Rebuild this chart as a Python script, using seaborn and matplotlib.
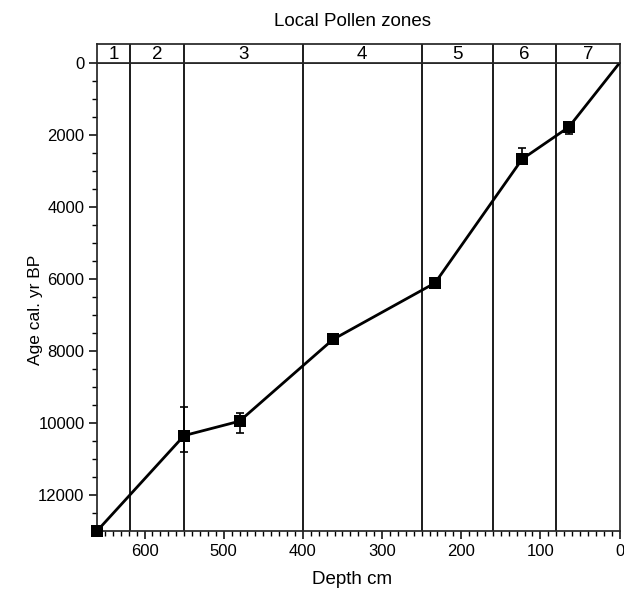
import numpy as np
import pandas as pd
import matplotlib
matplotlib.use("Agg")
import matplotlib.pyplot as plt
import seaborn as sns
from matplotlib.ticker import MultipleLocator

# ---- data ----
sample_depth = [660, 550, 480, 362, 233, 123, 64]          # cm
sample_age = [13000, 10350, 9950, 7680, 6110, 2670, 1780]  # cal. yr BP
age_young = [13000, 9560, 9720, 7680, 6110, 2370, 1650]    # error bar top
age_old = [13000, 10800, 10280, 7680, 6110, 2800, 1960]    # error bar bottom
surface_depth = [0]
surface_age = [0]

zone_bounds = [660, 618, 550, 400, 250, 160, 80, 0]
zone_labels = ["1", "2", "3", "4", "5", "6", "7"]

x_ticks = [600, 500, 400, 300, 200, 100, 0]
y_ticks = [0, 2000, 4000, 6000, 8000, 10000, 12000]

# ---- style ----
sns.set_style("ticks")
plt.rcParams["font.family"] = ["Liberation Sans", "DejaVu Sans"]
plt.rcParams["text.color"] = "black"
plt.rcParams["axes.labelcolor"] = "black"
plt.rcParams["xtick.color"] = "black"
plt.rcParams["ytick.color"] = "black"

W, H = 624, 598
fig = plt.figure(figsize=(W / 100, H / 100), dpi=100)

ax_l, ax_r, ax_t, ax_b = 97, 619.5, 63, 531
strip_top = 44
ax = fig.add_axes([ax_l / W, 1 - ax_b / H, (ax_r - ax_l) / W, (ax_b - ax_t) / H])
axz = fig.add_axes([ax_l / W, 1 - ax_t / H, (ax_r - ax_l) / W, (ax_t - strip_top) / H],
                   sharex=ax)

line_df = pd.DataFrame({"depth": sample_depth + surface_depth,
                        "age": sample_age + surface_age})
samp_df = pd.DataFrame({"depth": sample_depth, "age": sample_age,
                        "young": age_young, "old": age_old})

lw_frame = 1.25

# zone boundaries
for b in zone_bounds[1:-1]:
    ax.axvline(b, color="black", lw=lw_frame, zorder=1)
    axz.axvline(b, color="black", lw=lw_frame, zorder=1)

# age-depth line
sns.lineplot(data=line_df, x="depth", y="age", sort=False, estimator=None,
             color="black", lw=2.0, ax=ax, zorder=3)

# error bars
yerr = np.vstack([samp_df["age"] - samp_df["young"], samp_df["old"] - samp_df["age"]])
ax.errorbar(samp_df["depth"], samp_df["age"], yerr=yerr, fmt="none",
            ecolor="black", elinewidth=1.2, capsize=3, capthick=1.2, zorder=3,
            clip_on=False)

# dated samples
sns.scatterplot(data=samp_df, x="depth", y="age", marker="s", s=70,
                color="black", edgecolor="black", linewidth=0, ax=ax, zorder=4,
                clip_on=False)

ax.set_xlim(660, 0)
ax.set_ylim(13000, 0)
ax.set_xticks(x_ticks)
ax.set_xticklabels([str(v) for v in x_ticks])
ax.xaxis.set_minor_locator(MultipleLocator(10))
ax.set_yticks(y_ticks)
ax.set_yticklabels([str(v) for v in y_ticks])
ax.yaxis.set_minor_locator(MultipleLocator(500))

ax.tick_params(axis="both", which="major", length=6, width=1.1, labelsize=12, pad=3)
ax.tick_params(axis="both", which="minor", length=3.5, width=1.0)
for s in ax.spines.values():
    s.set_linewidth(lw_frame)
    s.set_visible(True)

ax.set_xlabel("Depth cm", fontsize=13.5)
ax.set_ylabel("Age cal. yr BP", fontsize=12.5)
ax.xaxis.set_label_coords((352 - ax_l) / (ax_r - ax_l), (ax_b - 571) / (ax_b - ax_t))
ax.yaxis.set_label_coords((43 - ax_l) / (ax_r - ax_l), (ax_b - 310) / (ax_b - ax_t))

# zone strip
axz.set_ylim(0, 1)
axz.set_yticks([])
axz.tick_params(axis="x", which="both", bottom=False, labelbottom=False)
for s in axz.spines.values():
    s.set_linewidth(lw_frame)
    s.set_visible(True)
for i, lab in enumerate(zone_labels):
    mid = (zone_bounds[i] + zone_bounds[i + 1]) / 2
    axz.text(mid, 0.45, lab, ha="center", va="center", fontsize=13.5)

fig.text(352 / W, 1 - 22 / H, "Local Pollen zones", ha="center", va="center",
         fontsize=13.5)

fig.savefig("out.png", dpi=100)
